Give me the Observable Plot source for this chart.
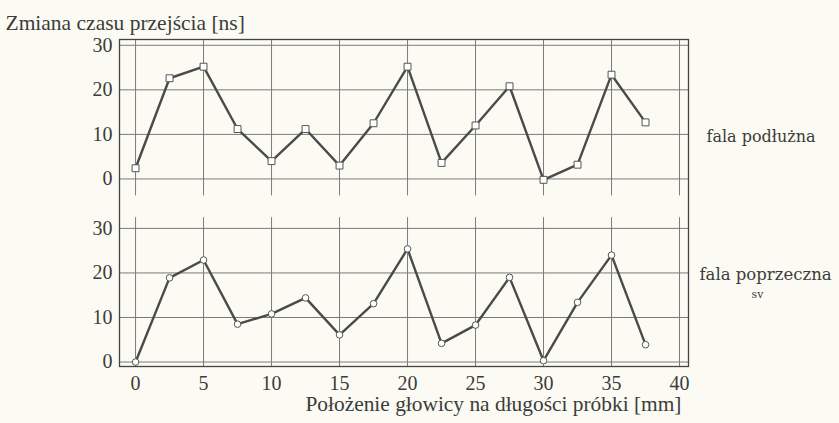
<!DOCTYPE html>
<html>
<head>
<meta charset="utf-8">
<script src="https://cdn.jsdelivr.net/npm/d3@7"></script>
<script src="https://cdn.jsdelivr.net/npm/@observablehq/plot@0.6"></script>
<style>
  html, body { margin: 0; padding: 0; background: #fbfbf3; }
  #chart svg { display: block; }
</style>
</head>
<body>
<div id="chart"></div>
<script>
// ---- data ----
const positions = [0, 2.5, 5, 7.5, 10, 12.5, 15, 17.5, 20, 22.5, 25, 27.5, 30, 32.5, 35, 37.5];
const falaPodluzna = [2.4, 22.6, 25.2, 11.2, 4.0, 11.2, 3.0, 12.5, 25.2, 3.6, 12.0, 20.8, -0.2, 3.2, 23.4, 12.7];
const falaPoprzeczna = [0.0, 18.9, 22.9, 8.5, 10.8, 14.4, 6.1, 13.1, 25.4, 4.2, 8.3, 19.0, 0.3, 13.4, 24.0, 3.9];
const xTicks = [0, 5, 10, 15, 20, 25, 30, 35, 40];
const yTicks = [0, 10, 20, 30];
const titleText = "Zmiana czasu przejścia [ns]";
const xLabelText = "Położenie głowicy na długości próbki [mm]";
const topLabel = "fala podłużna";
const bottomLabel = "fala poprzeczna";
const bottomSub = "sv";

// ---- layout: two stacked panels sharing one frame ----
const OFFSET = 41.1;          // vertical shift of the upper panel (in value units)
const yMin = -1, yMax = 72.4;
const topPanelLow = OFFSET - 3.8;
const bottomPanelHigh = 32.4;

const topData = positions.map((x, i) => ({x, v: falaPodluzna[i], y: falaPodluzna[i] + OFFSET}));
const bottomData = positions.map((x, i) => ({x, v: falaPoprzeczna[i], y: falaPoprzeczna[i]}));

const allYTicks = [...yTicks, ...yTicks.map(t => t + OFFSET)];
const fmtY = d => String(Math.round(d >= OFFSET - 5 ? d - OFFSET : d));

const ink = "#3b3b3b";
const gridC = "#7a7a7a";
const lineC = "#4a4a4a";

const chart = Plot.plot({
  width: 839,
  height: 423,
  marginTop: 39,
  marginBottom: 57,
  marginLeft: 119,
  marginRight: 151,
  style: {background: "transparent", fontFamily: "'Liberation Serif', serif", fontSize: "20px", color: ink},
  x: {domain: [-1.18, 40.66]},
  y: {domain: [yMin, yMax]},
  marks: [
    // horizontal grid lines, both panels
    Plot.ruleY(yTicks, {y: d => d, stroke: gridC, strokeWidth: 1}),
    Plot.ruleY(yTicks, {y: d => d + OFFSET, stroke: gridC, strokeWidth: 1}),
    // vertical grid lines, per panel
    Plot.ruleX(xTicks, {x: d => d, y1: yMin, y2: bottomPanelHigh, stroke: gridC, strokeWidth: 1}),
    Plot.ruleX(xTicks, {x: d => d, y1: topPanelLow, y2: yMax, stroke: gridC, strokeWidth: 1}),
    Plot.frame({stroke: "#444", strokeWidth: 1.3}),
    // series
    Plot.line(topData, {x: "x", y: "y", stroke: lineC, strokeWidth: 2.4}),
    Plot.dot(topData, {x: "x", y: "y", symbol: "square", r: 3.9, fill: "white", stroke: "#555", strokeWidth: 1}),
    Plot.line(bottomData, {x: "x", y: "y", stroke: lineC, strokeWidth: 2.4}),
    Plot.dot(bottomData, {x: "x", y: "y", symbol: "circle", r: 3.3, fill: "white", stroke: "#555", strokeWidth: 1}),
    // axes
    Plot.axisY({ticks: allYTicks, tickFormat: fmtY, tickSize: 0, tickPadding: 7, label: null, fill: ink}),
    Plot.axisX({ticks: xTicks, tickSize: 0, tickPadding: 9, label: null, fill: ink}),
    // labels
    Plot.text([xLabelText], {frameAnchor: "bottom-right", textAnchor: "end", dx: -7, dy: 44, fill: ink, fontSize: 21.4}),
    Plot.text([titleText], {frameAnchor: "top-left", textAnchor: "start", dx: -114, dy: -25, fill: ink, fontSize: 21.5}),
    Plot.text([topLabel], {frameAnchor: "right", y: yTicks[1] + OFFSET, dx: 18, dy: 2, textAnchor: "start",
      fontFamily: "'DejaVu Serif', serif", fontSize: 16, fill: ink}),
    Plot.text([bottomLabel], {frameAnchor: "right", y: yTicks[2], dx: 11, dy: 2, textAnchor: "start",
      fontFamily: "'DejaVu Serif', serif", fontSize: 16.5, fill: ink}),
    Plot.text([bottomSub], {frameAnchor: "right", y: yTicks[2], dx: 69, dy: 22, textAnchor: "middle",
      fontFamily: "'DejaVu Serif', serif", fontSize: 11, fill: ink})
  ]
});
document.getElementById("chart").append(chart);
</script>
</body>
</html>
